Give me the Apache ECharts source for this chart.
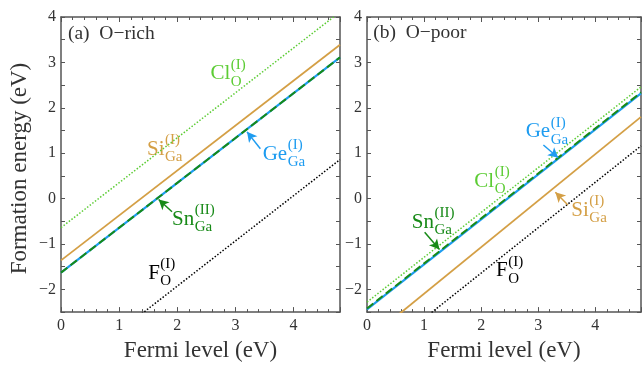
<!DOCTYPE html>
<html><head><meta charset="utf-8">
<script src="https://cdn.jsdelivr.net/npm/echarts@6/dist/echarts.min.js"></script>
<style>html,body{margin:0;padding:0;background:#fff}#c{width:644px;height:367px}</style>
</head><body><div id="c"></div>
<script>
// ---- data (Fermi level endpoints and formation energies at those endpoints) ----
const fermiEnds = [0, 4.8];
// (a) O-rich
const richCl = [-0.64, 4.11];
const richSi = [-1.36, 3.39];
const richGe = [-1.63, 3.11];
const richSn = [-1.63, 3.11];
const richF  = [-3.92, 0.86];
// (b) O-poor
const poorCl = [-2.28, 2.46];
const poorSi = [-3.12, 1.80];
const poorGe = [-2.44, 2.32];
const poorSn = [-2.42, 2.34];
const poorF  = [-3.64, 1.16];
// tick labels
const xTickLabels = [0, 1, 2, 3, 4];
const yTickLabels = [-2, -1, 0, 1, 2, 3, 4];

const FONT = '"Liberation Serif", "Times New Roman", serif';
const CL = '#5ccc34', SI = '#d49f45', GE = '#1e9cf0', SN = '#178a17', FC = '#000000';
const AX = '#555555', TXT = '#333333';

// annotation texts (data-coordinate anchors)
const labelsRich = [
  {main:'Cl', sup:'(I)', sub:'O', x:2.57, y:2.75, color:CL},
  {main:'Si', sup:'(I)', sub:'Ga', x:1.48, y:1.09, color:SI},
  {main:'Ge', sup:'(I)', sub:'Ga', x:3.47, y:0.98, color:GE},
  {main:'Sn', sup:'(II)', sub:'Ga', x:1.91, y:-0.45, color:SN},
  {main:'F', sup:'(I)', sub:'O', x:1.50, y:-1.65, color:FC}
];
const labelsPoor = [
  {main:'Ge', sup:'(I)', sub:'Ga', x:2.78, y:1.47, color:GE},
  {main:'Cl', sup:'(I)', sub:'O', x:1.88, y:0.38, color:CL},
  {main:'Sn', sup:'(II)', sub:'Ga', x:0.785, y:-0.52, color:SN},
  {main:'Si', sup:'(I)', sub:'Ga', x:3.58, y:-0.26, color:SI},
  {main:'F', sup:'(I)', sub:'O', x:2.26, y:-1.59, color:FC}
];
const arrowsRich = {
  Ge: [[3.43, 1.10], [3.20, 1.47]],
  Sn: [[1.91, -0.29], [1.68, -0.02]]
};
const arrowsPoor = {
  Ge: [[3.09, 1.18], [3.35, 0.90]],
  Sn: [[1.01, -0.74], [1.27, -1.12]],
  Si: [[3.52, -0.14], [3.30, 0.14]]
};

const pts = vals => fermiEnds.map((x, i) => [x, vals[i]]);
const axLine = {show:true, onZero:false, lineStyle:{color:AX, width:1.5}};
const tickStyle = {color:AX, width:1};

function xAxes(g) {
  return [
    {type:'value', gridIndex:g, position:'bottom', min:0, max:4.8, interval:1,
     axisLine:axLine, axisTick:{inside:true, length:5, lineStyle:tickStyle},
     minorTick:{show:true, splitNumber:5, length:3, lineStyle:tickStyle},
     splitLine:{show:false}, minorSplitLine:{show:false},
     axisLabel:{margin:6, fontSize:16, color:TXT, fontFamily:FONT,
       formatter: v => xTickLabels.includes(v) ? String(v) : ''},
     name:'Fermi level (eV)', nameLocation:'middle', nameGap:19,
     nameTextStyle:{fontSize:23, color:TXT, fontFamily:FONT}},
    {type:'value', gridIndex:g, position:'top', min:0, max:4.8, interval:1,
     axisLine:axLine, axisTick:{inside:true, length:5, lineStyle:tickStyle},
     minorTick:{show:true, splitNumber:5, length:3, lineStyle:tickStyle},
     splitLine:{show:false}, axisLabel:{show:false}}
  ];
}
function yAxes(g, withName) {
  const left = {type:'value', gridIndex:g, position:'left', min:-2.5, max:4, interval:0.5,
     axisLine:axLine, axisTick:{inside:true, length:4, lineStyle:tickStyle},
     splitLine:{show:false},
     axisLabel:{margin:5, fontSize:16, color:TXT, fontFamily:FONT,
       formatter: v => yTickLabels.includes(v) ? String(v).replace('-', '\u2212') : ''}};
  if (withName) {
    Object.assign(left, {name:'Formation energy (eV)', nameLocation:'middle', nameGap:30, nameRotate:90,
      nameTextStyle:{fontSize:23, color:TXT, fontFamily:FONT, padding:[0, 8, 0, 0]}});
  }
  return [left,
    {type:'value', gridIndex:g, position:'right', min:-2.5, max:4, interval:0.5,
     axisLine:axLine, axisTick:{inside:true, length:4, lineStyle:tickStyle},
     splitLine:{show:false}, axisLabel:{show:false}}];
}

function arrowLine(a, color) {
  return {silent:true, symbol:['none', 'arrow'], symbolSize:[8, 10], animation:false,
    label:{show:false}, lineStyle:{color:color, width:1.5, type:'solid'},
    emphasis:{disabled:true},
    data:[[{coord:a[0]}, {coord:a[1]}]]};
}

function panelSeries(xi, yi, d, arrows) {
  const base = {type:'line', xAxisIndex:xi, yAxisIndex:yi, showSymbol:false, symbol:'none', clip:true, silent:true};
  return [
    Object.assign({}, base, {name:'Cl', data:pts(d.Cl), lineStyle:{color:CL, width:1.5, type:[1.5, 1.8]}}),
    Object.assign({}, base, {name:'Si', data:pts(d.Si), lineStyle:{color:SI, width:1.8},
      markLine: arrows.Si ? arrowLine(arrows.Si, SI) : undefined}),
    Object.assign({}, base, {name:'F', data:pts(d.F), lineStyle:{color:FC, width:1.5, type:[1.5, 1.8]}}),
    Object.assign({}, base, {name:'Ge', data:pts(d.Ge), lineStyle:{color:GE, width:2.2},
      markLine: arrows.Ge ? arrowLine(arrows.Ge, GE) : undefined}),
    Object.assign({}, base, {name:'Sn', data:pts(d.Sn), lineStyle:{color:SN, width:2, type:[8, 4]},
      markLine: arrows.Sn ? arrowLine(arrows.Sn, SN) : undefined})
  ];
}

const chart = echarts.init(document.getElementById('c'), null, {renderer:'canvas'});
const option = {
  animation:false,
  backgroundColor:'#ffffff',
  grid:[
    {left:61, top:17, width:279, height:303},
    {left:367, top:17, width:276, height:303}
  ],
  xAxis:[...xAxes(0), ...xAxes(1)],
  yAxis:[...yAxes(0, true), ...yAxes(1, false)],
  series:[
    ...panelSeries(0, 0, {Cl:richCl, Si:richSi, F:richF, Ge:richGe, Sn:richSn}, arrowsRich),
    ...panelSeries(2, 2, {Cl:poorCl, Si:poorSi, F:poorF, Ge:poorGe, Sn:poorSn}, arrowsPoor)
  ]
};
chart.setOption(option);

// ---- annotations with sub/superscripts ----
const mctx = document.createElement('canvas').getContext('2d');
function textW(t, size) { mctx.font = size + 'px ' + FONT; return mctx.measureText(t).width; }
const MAIN = 21, SMALL = 15;
const graphics = [];
function addLabels(list, seriesIndex) {
  list.forEach(l => {
    const p = chart.convertToPixel({seriesIndex:seriesIndex}, [l.x, l.y]);
    const w = textW(l.main, MAIN);
    graphics.push({type:'text', x:p[0], y:p[1], silent:true,
      style:{text:l.main, fontSize:MAIN, fontFamily:FONT, fill:l.color, align:'left', verticalAlign:'middle'}});
    graphics.push({type:'text', x:p[0] + w + 0.5, y:p[1] - 9, silent:true,
      style:{text:l.sup, fontSize:SMALL, fontFamily:FONT, fill:l.color, align:'left', verticalAlign:'middle'}});
    graphics.push({type:'text', x:p[0] + w + 0.5, y:p[1] + 8, silent:true,
      style:{text:l.sub, fontSize:SMALL, fontFamily:FONT, fill:l.color, align:'left', verticalAlign:'middle'}});
  });
}
addLabels(labelsRich, 0);
addLabels(labelsPoor, 5);
function panelTitle(txt, seriesIndex, at) {
  const p = chart.convertToPixel({seriesIndex:seriesIndex}, at);
  graphics.push({type:'text', x:p[0], y:p[1], silent:true,
    style:{text:txt, fontSize:19.5, fontFamily:FONT, fill:TXT, align:'left', verticalAlign:'middle'}});
}
panelTitle('(a)  O\u2212rich', 0, [0.12, 3.63]);
panelTitle('(b)  O\u2212poor', 5, [0.11, 3.65]);
chart.setOption({graphic:graphics});
</script>
</body></html>
